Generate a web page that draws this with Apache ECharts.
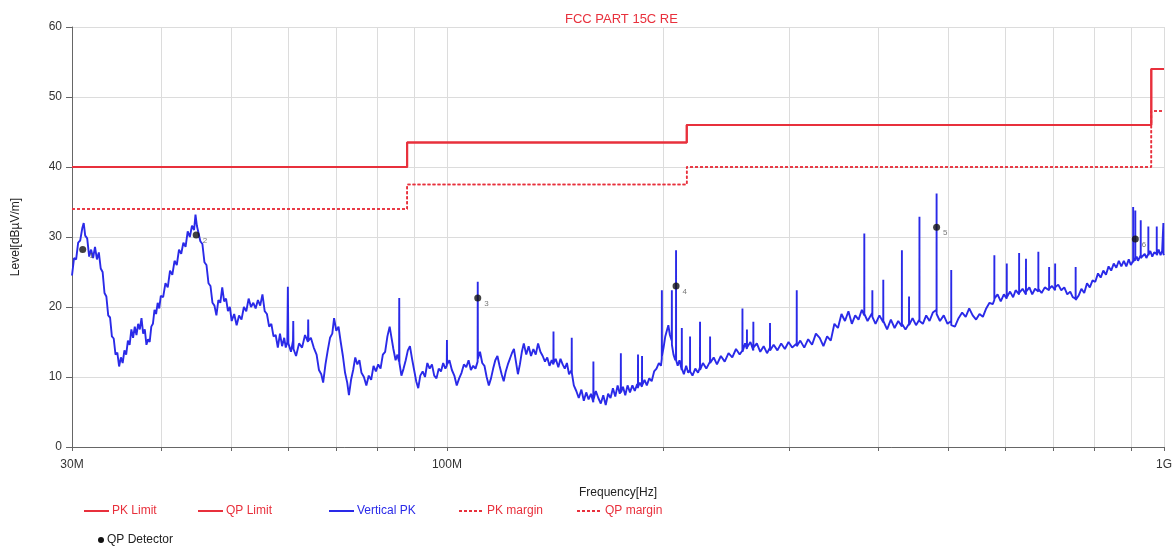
<!DOCTYPE html>
<html>
<head>
<meta charset="utf-8">
<title>FCC PART 15C RE</title>
<script src="https://cdn.jsdelivr.net/npm/echarts@6/dist/echarts.min.js"></script>
<style>
  html, body { margin: 0; padding: 0; background: #ffffff; }
  #chart { width: 1176px; height: 547px; }
</style>
</head>
<body>
<div id="chart"></div>
<script>
// Frequency band edges (MHz) and limit levels (dBµV/m) per band
const limitEdges = [30, 88, 216, 960, 1000];
const pkLimit = [40, 43.5, 46, 54];
const qpLimit = [40, 43.5, 46, 54];
const pkMargin = [34, 37.5, 40, 48];
const qpMargin = [34, 37.5, 40, 48];

// Axis ticks
const xTickValues = [30, 40, 50, 60, 70, 80, 90, 100, 200, 300, 400, 500, 600, 700, 800, 900, 1000];
const xLabelValues = [30, 100, 1000];
const xLabelText = { 30: '30M', 100: '100M', 1000: '1G' };
const yTicks = [0, 10, 20, 30, 40, 50, 60];

// QP detector readings: frequency (MHz), level (dBµV/m), marker number
const qpFreq = [31.05, 44.7, 110.4, 208.7, 481.8, 912];
const qpLevel = [28.2, 30.3, 21.3, 23.0, 31.4, 29.7];
const qpNo = ['1', '2', '3', '4', '5', '6'];

// Vertical peak sweep: [frequency MHz, level dBµV/m]
const verticalPk = [
  [30.0,24.5],[30.2,27.0],[30.4,26.8],[30.6,29.2],[30.8,29.5],[31.0,31.2],[31.15,32.0],[31.3,30.2],[31.5,29.8],[31.7,27.2],
  [31.9,28.2],[32.1,27.0],[32.3,28.6],[32.5,26.8],[32.7,27.8],[32.9,25.5],[33.1,25.0],[33.3,22.0],[33.5,21.5],[33.7,18.8],
  [33.9,18.5],[34.1,15.8],[34.3,15.5],[34.5,13.2],[34.7,13.5],[34.9,11.5],[35.1,12.8],[35.3,12.0],[35.5,13.8],[35.7,13.2],
  [35.9,15.2],[36.1,14.6],[36.3,16.8],[36.5,15.6],[36.7,17.2],[36.9,16.0],[37.1,17.6],[37.3,16.8],[37.5,18.4],[37.7,16.2],
  [37.9,16.8],[38.1,14.6],[38.3,15.4],[38.5,15.0],[38.7,17.2],[38.9,17.6],[39.1,19.6],[39.3,19.0],[39.5,20.6],[39.7,19.8],
  [39.9,21.6],[40.2,21.4],[40.5,23.4],[40.8,22.8],[41.1,25.2],[41.4,24.6],[41.7,26.6],[42.0,26.0],[42.3,28.2],[42.6,27.6],
  [42.9,29.2],[43.2,28.6],[43.5,30.8],[43.8,30.0],[44.1,31.6],[44.4,31.0],[44.6,33.2],[44.8,31.6],[45.0,31.8],[45.3,29.4],
  [45.6,29.0],[45.9,26.4],[46.2,26.0],[46.5,23.4],[46.8,23.0],[47.1,20.6],[47.4,20.2],[47.7,18.8],[48.0,21.0],[48.3,20.6],
  [48.6,22.8],[48.9,20.8],[49.2,21.2],[49.5,19.4],[49.8,20.0],[50.1,18.0],[50.5,19.0],[50.9,17.4],[51.3,18.8],[51.7,18.2],
  [52.1,20.0],[52.5,19.4],[52.9,21.2],[53.3,20.0],[53.7,20.6],[54.1,19.8],[54.5,21.0],[54.9,20.2],[55.3,21.8],[55.7,19.4],
  [56.1,19.0],[56.5,17.2],[56.9,17.6],[57.3,15.8],[57.7,16.0],[58.1,14.2],[58.5,16.2],[58.9,14.4],[59.3,15.6],[59.6,14.2],
  [59.9,15.0],[60.0,22.9],[60.1,14.8],[60.6,13.6],[61.0,15.2],[61.05,18.0],[61.1,14.0],[61.6,13.0],[62.2,14.8],[62.8,14.2],
  [63.4,16.0],[64.0,15.0],[64.05,18.2],[64.1,15.2],[64.6,15.6],[65.2,14.2],[65.8,13.2],[66.3,11.0],[66.8,10.4],[67.2,9.2],
  [67.7,11.8],[68.2,13.8],[68.7,15.6],[69.2,16.2],[69.6,18.4],[70.1,16.6],[70.6,17.2],[71.1,15.0],[71.6,13.0],[72.1,10.6],
  [72.6,9.2],[73.0,7.4],[73.5,9.6],[74.0,11.0],[74.5,12.8],[75.0,11.8],[75.5,12.4],[76.0,10.6],[76.6,10.0],[77.2,8.8],
  [77.8,10.2],[78.4,9.6],[79.0,11.6],[79.6,10.8],[80.2,11.8],[80.8,11.2],[81.4,13.2],[82.0,13.6],[82.6,15.8],[83.2,17.2],
  [83.7,15.6],[84.2,14.0],[84.8,12.4],[85.3,13.2],[85.75,12.2],[85.8,21.3],[85.85,12.0],[86.4,10.2],[87.0,11.2],[87.6,12.4],
  [88.2,13.8],[88.8,14.4],[89.4,12.6],[90.0,11.0],[90.6,9.4],[91.2,8.4],[91.8,10.2],[92.5,10.8],[93.2,10.0],[93.9,12.0],
  [94.6,11.2],[95.3,11.8],[96.0,10.2],[96.7,9.8],[97.4,11.2],[98.1,10.8],[98.8,12.0],[99.5,11.2],[99.95,11.6],[100.0,15.3],
  [100.05,11.8],[100.8,12.4],[101.6,11.0],[102.4,10.2],[103.2,8.8],[104.0,9.8],[104.8,10.6],[105.6,11.8],[106.4,11.4],[107.2,12.4],
  [108.0,11.0],[108.8,11.6],[109.6,11.2],[110.35,12.2],[110.4,23.6],[110.45,12.6],[111.2,13.6],[112.0,12.0],[112.8,11.6],[113.6,10.0],
  [114.4,8.8],[115.2,9.8],[116.0,11.2],[116.8,12.4],[117.6,13.0],[118.4,11.6],[119.2,10.4],[120.0,9.4],[120.8,10.8],[121.6,11.8],
  [122.4,12.6],[123.2,13.4],[124.0,14.0],[124.8,12.2],[125.6,10.4],[126.4,11.8],[127.2,13.6],[128.0,14.8],[129.0,13.2],[130.0,14.4],
  [131.0,13.0],[132.0,14.0],[133.0,13.2],[134.0,14.8],[135.0,13.6],[136.0,13.0],[137.0,12.2],[138.0,12.8],[139.0,11.6],[140.0,12.4],
  [140.75,11.8],[140.8,16.5],[140.85,12.0],[141.8,12.6],[143.0,11.4],[144.0,12.6],[145.0,11.8],[146.0,11.2],[147.0,12.0],[148.0,10.4],
  [149.25,11.0],[149.3,15.6],[149.35,10.6],[150.3,8.8],[151.5,8.0],[152.7,7.0],[154.0,8.2],[155.2,6.6],[156.4,7.8],[157.6,6.8],
  [158.8,7.6],[160.0,6.4],[160.05,12.2],[160.1,6.8],[161.3,8.0],[162.6,7.0],[163.9,6.2],[165.2,7.4],[166.5,6.0],[167.8,7.6],
  [169.1,7.0],[170.4,8.4],[171.7,7.2],[173.0,8.8],[174.2,7.6],[174.75,8.2],[174.8,13.4],[174.85,7.8],[176.0,8.6],[177.3,7.4],
  [178.6,8.8],[180.0,7.8],[181.4,8.8],[182.8,8.0],[184.2,9.0],[184.65,8.4],[184.7,13.2],[184.75,8.6],[185.8,9.2],[187.05,8.6],
  [187.1,13.0],[187.15,8.8],[188.6,9.6],[190.0,8.8],[191.5,9.8],[193.0,9.4],[194.5,10.8],[196.0,11.2],[197.5,12.0],[198.8,11.6],
  [199.35,12.6],[199.4,22.4],[199.45,13.0],[200.5,14.2],[201.6,15.8],[202.6,16.6],[203.6,17.4],[204.6,16.0],[205.85,15.2],[205.9,22.4],
  [205.95,14.6],[207.0,13.2],[208.2,12.4],[208.65,12.8],[208.7,28.1],[208.75,12.4],[209.8,11.6],[211.0,12.4],[212.55,11.0],[212.6,17.0],
  [212.65,11.2],[214.0,10.4],[215.6,11.6],[217.0,10.6],[218.25,11.0],[218.3,15.8],[218.35,10.8],[220.0,10.2],[222.0,11.2],[224.0,10.6],
  [225.35,11.4],[225.4,17.9],[225.45,11.0],[227.5,12.0],[230.0,11.2],[232.75,12.2],[232.8,15.8],[232.85,12.0],[235.5,12.8],[238.0,11.8],
  [241.0,13.0],[244.0,12.2],[247.0,13.4],[250.0,12.8],[253.0,14.0],[256.0,13.2],[258.25,13.8],[258.3,19.8],[258.35,13.6],[260.5,14.8],
  [262.0,14.0],[262.05,16.8],[262.1,14.2],[265.0,15.0],[267.45,13.8],[267.5,17.9],[267.55,14.2],[270.5,14.8],[273.5,13.6],[276.5,14.4],
  [279.5,13.4],[282.15,14.2],[282.2,17.7],[282.25,13.8],[285.5,14.6],[289.0,13.8],[292.5,14.8],[296.0,14.0],[299.5,15.0],[303.0,14.2],
  [307.45,14.8],[307.5,22.4],[307.55,14.4],[311.0,15.2],[315.0,14.2],[319.0,15.4],[323.0,14.6],[327.0,16.2],[331.0,15.6],[335.0,14.4],
  [339.0,15.8],[343.0,15.2],[347.0,17.6],[351.0,17.0],[355.0,19.0],[359.0,18.0],[363.0,19.4],[367.0,17.6],[371.0,18.8],[375.0,18.2],
  [379.0,19.6],[381.95,18.8],[382.0,30.5],[382.05,19.0],[386.0,18.0],[391.95,19.2],[392.0,22.4],[392.05,18.6],[396.0,17.6],[401.0,18.8],
  [405.95,17.8],[406.0,23.9],[406.05,18.0],[411.0,16.8],[416.0,18.2],[421.0,17.0],[426.0,18.0],[430.95,17.2],[431.0,28.1],[431.05,17.6],
  [436.0,16.8],[440.95,17.6],[441.0,21.5],[441.05,17.4],[446.0,18.4],[451.0,17.4],[455.95,18.2],[456.0,32.9],[456.05,18.0],[461.0,17.6],
  [466.0,18.8],[471.0,18.0],[476.0,19.2],[481.75,19.6],[481.8,36.2],[481.85,19.0],[487.0,18.0],[493.0,18.8],[499.0,17.6],[504.95,18.0],
  [505.0,25.3],[505.05,17.4],[511.0,17.2],[517.0,18.4],[523.0,19.2],[529.0,18.6],[535.0,19.8],[541.0,18.8],[547.0,18.2],[553.0,19.0],
  [559.0,18.6],[565.0,19.8],[571.0,20.6],[577.0,20.4],[579.95,21.0],[580.0,27.4],[580.05,21.2],[586.0,21.8],[592.0,20.8],[598.0,21.8],
  [603.55,21.2],[603.6,26.2],[603.65,21.4],[610.0,22.2],[616.0,21.4],[621.0,22.4],[627.95,21.8],[628.0,27.7],[628.05,22.0],[635.0,22.6],
  [641.95,21.8],[642.0,26.9],[642.05,22.2],[649.0,22.8],[655.0,21.8],[661.0,22.6],[667.95,22.2],[668.0,27.9],[668.05,22.6],[675.0,22.0],
  [682.0,22.8],[691.45,22.4],[691.5,25.7],[691.55,22.6],[698.0,23.0],[704.95,22.4],[705.0,26.2],[705.05,22.8],[712.0,23.2],[719.0,22.4],
  [726.0,22.8],[733.0,21.8],[740.0,22.2],[746.0,21.4],[752.95,21.2],[753.0,25.7],[753.05,21.0],[760.0,21.6],[767.0,22.6],[774.0,22.0],
  [781.0,23.4],[788.0,22.8],[795.0,23.8],[802.0,23.6],[809.0,24.8],[816.0,24.2],[823.0,25.2],[830.0,24.6],[837.0,25.8],[844.0,25.2],
  [851.0,26.2],[858.0,25.6],[865.0,26.6],[872.0,25.8],[879.0,26.6],[886.0,25.8],[893.0,26.8],[899.0,26.0],[905.65,26.6],[905.7,34.3],
  [905.75,26.4],[910.0,27.0],[911.95,26.6],[912.0,33.8],[912.05,26.8],[916.0,27.2],[920.0,26.6],[927.95,27.4],[928.0,32.4],[928.05,27.0],
  [934.0,26.8],[940.0,27.6],[945.0,27.0],[950.95,27.6],[951.0,31.5],[951.05,27.4],[957.0,28.0],[963.0,27.2],[969.0,27.8],[976.95,27.6],
  [977.0,31.5],[977.05,27.4],[983.0,28.2],[989.0,27.4],[994.0,28.0],[997.95,27.8],[998.0,32.0],[998.05,27.6],[1000.0,27.4]
];

// Build step-line points for a banded limit
function bandSteps(levels) {
  return limitEdges.map((f, i) => [f, levels[Math.min(i, levels.length - 1)]]);
}

const RED = '#e8303c';
const BLUE = '#2a2ae8';
const FONT = '"Liberation Sans", Arial, sans-serif';

const chart = echarts.init(document.getElementById('chart'), null, { renderer: 'canvas' });

function legendAt(name, left, top, color, extra) {
  return Object.assign({
    data: [name], left: left, top: top, orient: 'horizontal',
    itemWidth: 25, itemHeight: 10, itemGap: 6, selectedMode: false,
    itemStyle: { opacity: 0 },
    textStyle: { color: color, fontSize: 12, fontFamily: FONT, padding: [0, 0, 0, -2] }
  }, extra || {});
}

const option = {
  animation: false,
  backgroundColor: '#ffffff',
  title: {
    text: 'FCC PART 15C RE', left: 560, top: 8,
    textStyle: { color: RED, fontSize: 13, fontWeight: 'normal', fontFamily: FONT }
  },
  legend: [
    legendAt('PK Limit', 78, 500, RED),
    legendAt('QP Limit', 192, 500, RED),
    legendAt('Vertical PK', 323, 500, BLUE),
    legendAt('PK margin', 453, 500, RED),
    legendAt('QP margin', 571, 500, RED),
    legendAt('QP Detector', 93, 529, '#222', {
      itemWidth: 6, itemHeight: 6, itemGap: 8, icon: 'circle', itemStyle: { opacity: 1, color: '#111' }
    })
  ],
  grid: { left: 72, right: 12, top: 27, bottom: 100, containLabel: false },
  xAxis: {
    type: 'log', logBase: 10, min: 30, max: 1000,
    name: 'Frequency[Hz]', nameLocation: 'middle', nameGap: 40,
    nameTextStyle: { color: '#222', fontSize: 12, fontFamily: FONT },
    axisLine: { show: true, lineStyle: { color: '#666', width: 1 } },
    axisTick: { show: true, customValues: xTickValues, length: 4, inside: false, lineStyle: { color: '#666' } },
    axisLabel: {
      customValues: xLabelValues, color: '#333', fontSize: 12, fontFamily: FONT, margin: 12,
      formatter: v => xLabelText[Math.round(v)] || ''
    },
    splitLine: { show: true, lineStyle: { color: '#dcdcdc', width: 1 } },
    minorTick: { show: false }, minorSplitLine: { show: false }
  },
  yAxis: {
    type: 'value', min: yTicks[0], max: yTicks[yTicks.length - 1], interval: 10,
    name: 'Level[dBµV/m]', nameLocation: 'middle', nameGap: 50,
    nameTextStyle: { color: '#222', fontSize: 12, fontFamily: FONT },
    axisLine: { show: true, lineStyle: { color: '#666', width: 1 } },
    axisTick: { show: true, length: 6, lineStyle: { color: '#666' } },
    axisLabel: { color: '#333', fontSize: 12, fontFamily: FONT, margin: 10 },
    splitLine: { show: true, lineStyle: { color: '#dcdcdc', width: 1 } }
  },
  series: [
    {
      name: 'Vertical PK', type: 'line', data: verticalPk, symbol: 'none', showSymbol: false,
      lineStyle: { color: BLUE, width: 1.9 }, itemStyle: { color: BLUE }, z: 3, silent: true
    },
    {
      name: 'PK Limit', type: 'line', step: 'end', data: bandSteps(pkLimit), symbol: 'none',
      lineStyle: { color: RED, width: 2 }, itemStyle: { color: RED }, z: 4, silent: true
    },
    {
      name: 'QP Limit', type: 'line', step: 'end', data: bandSteps(qpLimit), symbol: 'none',
      lineStyle: { color: RED, width: 2 }, itemStyle: { color: RED }, z: 4, silent: true
    },
    {
      name: 'PK margin', type: 'line', step: 'end', data: bandSteps(pkMargin), symbol: 'none',
      lineStyle: { color: RED, width: 1.6, type: [3, 2] }, itemStyle: { color: RED }, z: 4, silent: true
    },
    {
      name: 'QP margin', type: 'line', step: 'end', data: bandSteps(qpMargin), symbol: 'none',
      lineStyle: { color: RED, width: 1.6, type: [3, 2] }, itemStyle: { color: RED }, z: 4, silent: true
    },
    {
      name: 'QP Detector', type: 'scatter', symbol: 'circle', symbolSize: 7,
      data: qpFreq.map((f, i) => ({ value: [f, qpLevel[i]], label: { formatter: qpNo[i] } })),
      itemStyle: { color: '#111' }, z: 6, silent: true,
      label: { show: true, position: 'right', offset: [-2, 6], fontSize: 8, color: '#555', fontFamily: FONT }
    }
  ]
};

chart.setOption(option);
</script>
</body>
</html>
